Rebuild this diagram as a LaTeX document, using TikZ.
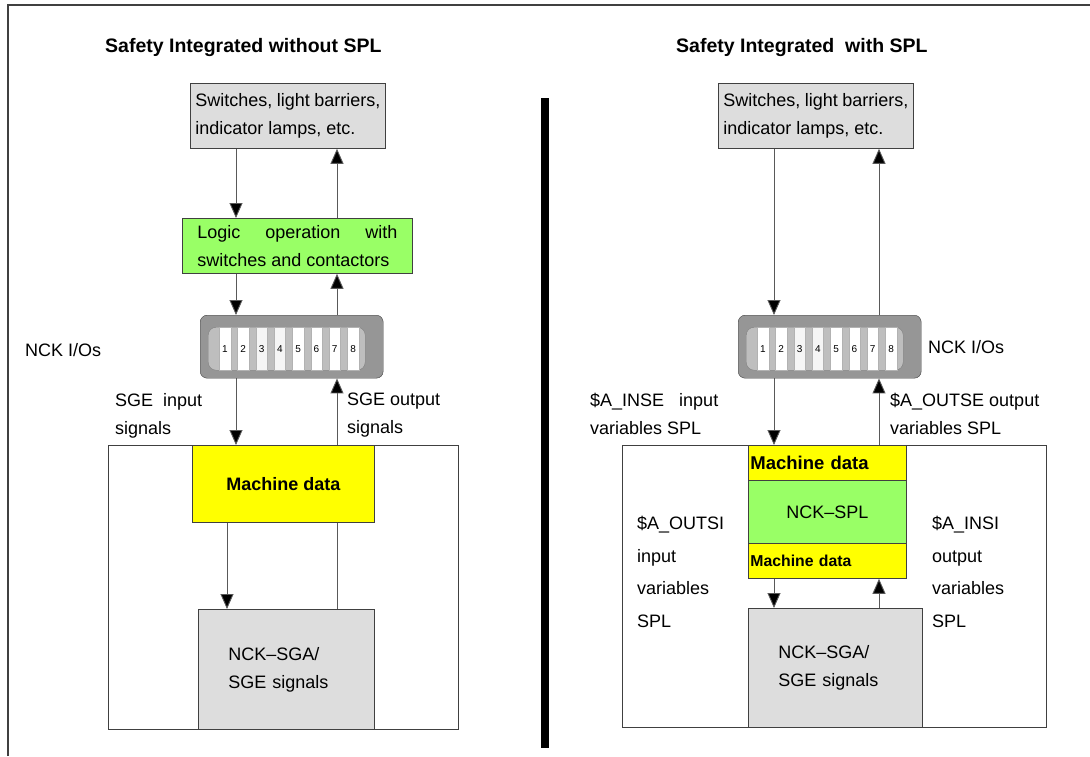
\documentclass[tikz,border=0pt]{standalone}
\usepackage{fontspec}
\setmainfont{Liberation Sans}
\usepackage{xcolor}
\usepackage{tikz}
\usetikzlibrary{arrows.meta, positioning, calc}

\definecolor{boxgrey}{RGB}{221,221,221}
\definecolor{splgreen}{RGB}{153,255,102}
\definecolor{mdyellow}{RGB}{255,255,0}
\definecolor{plugdark}{RGB}{150,150,150}
\definecolor{pluglight}{RGB}{190,190,190}

\begin{document}
\begin{tikzpicture}[x=1pt, y=-1pt,
  ttl/.style    = {font=\fontsize{19.5}{24}\selectfont\bfseries, inner sep=0pt,
                   anchor=west},
  txt/.style    = {font=\fontsize{18}{28}\selectfont, inner sep=0pt,
                   anchor=north west, align=left},
  dev/.style    = {draw=black!75, fill=boxgrey, line width=0.8pt,
                   anchor=north west, inner ysep=0pt,
                   font=\fontsize{18}{28}\selectfont},
  logic/.style  = {draw=black!75, fill=splgreen, line width=0.8pt,
                   anchor=north west, inner ysep=0pt,
                   font=\fontsize{18}{28}\selectfont},
  mdat/.style   = {draw=black!75, fill=mdyellow, line width=0.8pt,
                   anchor=north west, inner sep=0pt,
                   font=\fontsize{18}{22}\selectfont\bfseries},
  cab/.style    = {draw=black!75, fill=white, line width=0.8pt,
                   anchor=north west, inner sep=0pt},
  plug/.style   = {draw=black!75, fill=plugdark, rounded corners=7pt,
                   minimum width=183, minimum height=63,
                   anchor=north west, inner sep=0pt},
  plugin/.style = {draw=black!50, fill=pluglight, rounded corners=8pt,
                   minimum width=157, minimum height=43,
                   anchor=north west, inner sep=0pt},
  pinbox/.style = {draw=gray!60, line width=0.4pt, minimum width=11.5,
                   minimum height=43, anchor=north west, inner sep=0pt,
                   font=\fontsize{10}{10}\selectfont},
  arr/.style    = {-{Triangle[length=15pt,width=13pt,fill=black]},
                   line width=0.9pt, black!65},
  ln/.style     = {line width=0.9pt, black!65},
]
\useasboundingbox (0,0) rectangle (1090,756);

%% frame and divider
\draw[line width=1.5pt, black!75] (8,756) -- (8,5) -- (1090,5);
\fill[black] (541,98) rectangle (549,748);

%% titles
\node[ttl] (ttlL) at (105,47) {Safety Integrated without SPL};
\node[ttl] (ttlR) at (676,47) {Safety Integrated\ \ with SPL};

%% columns of the signal lines
\coordinate (colLa) at (236,0);
\coordinate (colLb) at (337,0);
\coordinate (colLc) at (227,0);
\coordinate (colRa) at (774,0);
\coordinate (colRb) at (879,0);

%% ---------------- without SPL ----------------
\node[dev, minimum width=195, minimum height=65, text width=185,
      align=justify] (srcL) at (190,83)
  {Switches, light barriers,\linebreak indicator lamps, etc.};
\node[logic, minimum width=230, minimum height=55, text width=200,
      align=justify] (logL) at (182,218)
  {Logic operation with\linebreak switches and contactors};

\node[plug] (ioL) at (200,315) {};
\node[plugin] (ioLi) at ($(ioL.north west)+(8,12)$) {};
\foreach \n/\c in {1/white,2/white,3/gray!8,4/gray!8,5/white,6/white,7/white,8/white}
  \node[pinbox, fill=\c] (ioLp\n) at ($(ioLi.north west)+({11+18.3*(\n-1)},0)$) {\n};
\node[txt, anchor=west] (nckL) at (25,350) {NCK I/Os};

\node[cab, minimum width=350, minimum height=284] (cabL) at (108,445) {};
\node[mdat, minimum width=182, minimum height=77] (mdL) at (192,445) {Machine data};
\node[dev, minimum width=176, minimum height=120, text width=116,
      inner xsep=30pt, align=left] (sgaL) at (198,609)
  {NCK–SGA/\\SGE signals};

\draw[arr] (srcL.south -| colLa) -- (logL.north -| colLa);
\draw[arr] (logL.north -| colLb) -- (srcL.south -| colLb);
\draw[arr] (logL.south -| colLa) -- (ioL.north -| colLa);
\draw[arr] (ioL.north -| colLb) -- (logL.south -| colLb);
\draw[arr] (ioL.south -| colLa) -- (mdL.north -| colLa);
\draw[arr] (mdL.north -| colLb) -- (ioL.south -| colLb);
\draw[arr] (mdL.south -| colLc) -- (sgaL.north -| colLc);
\draw[ln]  (sgaL.north -| colLb) -- (mdL.south -| colLb);

\node[txt] (sgeinL) at (115,393) {SGE\ \ input\\signals};
\node[txt] (sgeoutL) at (347,393) {SGE output\\signals};

%% ---------------- with SPL ----------------
\node[dev, minimum width=195, minimum height=65, text width=185,
      align=justify] (srcR) at (718,83)
  {Switches, light barriers,\linebreak indicator lamps, etc.};

\node[plug] (ioR) at (738,315) {};
\node[plugin] (ioRi) at ($(ioR.north west)+(8,12)$) {};
\foreach \n/\c in {1/white,2/white,3/gray!8,4/gray!8,5/white,6/white,7/white,8/white}
  \node[pinbox, fill=\c] (ioRp\n) at ($(ioRi.north west)+({11+18.3*(\n-1)},0)$) {\n};
\node[txt, anchor=west] (nckR) at (928,347) {NCK I/Os};

\node[cab, minimum width=424, minimum height=282] (cabR) at (622,445) {};
\node[mdat, minimum width=158, minimum height=35, text width=154,
      inner xsep=2pt, align=left, font=\fontsize{18.5}{22}\selectfont\bfseries]
  (mdR1) at (748,445) {Machine data};
\node[logic, minimum width=158, minimum height=63, align=center] (splR) at (748,480) {NCK–SPL};
\node[mdat, minimum width=158, minimum height=35, text width=154,
      inner xsep=2pt, align=left, font=\fontsize{15.8}{20}\selectfont\bfseries]
  (mdR2) at (748,543) {Machine data};
\node[dev, minimum width=174, minimum height=119, text width=114,
      inner xsep=30pt, align=left] (sgaR) at (748,608)
  {NCK–SGA/\\SGE signals};

\draw[arr] (srcR.south -| colRa) -- (ioR.north -| colRa);
\draw[arr] (ioR.north -| colRb) -- (srcR.south -| colRb);
\draw[arr] (ioR.south -| colRa) -- (mdR1.north -| colRa);
\draw[arr] (mdR1.north -| colRb) -- (ioR.south -| colRb);
\draw[arr] (mdR2.south -| colRa) -- (sgaR.north -| colRa);
\draw[arr] (sgaR.north -| colRb) -- (mdR2.south -| colRb);

\node[txt] (inseR) at (590,393) {\$A\_INSE\ \ \ input\\variables SPL};
\node[txt] (outseR) at (890,393) {\$A\_OUTSE output\\variables SPL};
\node[txt, font=\fontsize{18}{32.5}\selectfont] (outsiR) at (637,516)
  {\$A\_OUTSI\\input\\variables\\SPL};
\node[txt, font=\fontsize{18}{32.5}\selectfont] (insiR) at (932,516)
  {\$A\_INSI\\output\\variables\\SPL};

\end{tikzpicture}
\end{document}
